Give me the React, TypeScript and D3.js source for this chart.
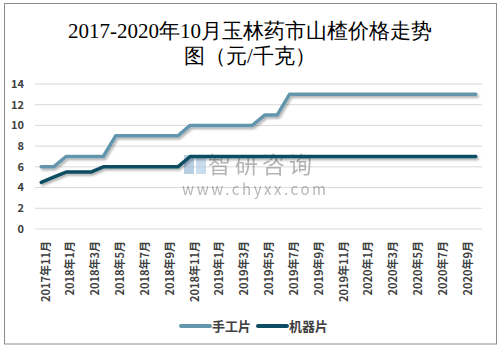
import * as d3 from 'd3';
import React from 'react';

const W = 502;
const H = 351;

// months from 2017-11 to 2020-10
const months = [
  '2017年11月', '2017年12月',
  '2018年1月', '2018年2月', '2018年3月', '2018年4月', '2018年5月', '2018年6月',
  '2018年7月', '2018年8月', '2018年9月', '2018年10月', '2018年11月', '2018年12月',
  '2019年1月', '2019年2月', '2019年3月', '2019年4月', '2019年5月', '2019年6月',
  '2019年7月', '2019年8月', '2019年9月', '2019年10月', '2019年11月', '2019年12月',
  '2020年1月', '2020年2月', '2020年3月', '2020年4月', '2020年5月', '2020年6月',
  '2020年7月', '2020年8月', '2020年9月', '2020年10月',
];

const handmade = [
  6, 6, 7, 7, 7, 7, 9, 9, 9, 9, 9, 9, 10, 10, 10, 10, 10, 10, 11, 11,
  13, 13, 13, 13, 13, 13, 13, 13, 13, 13, 13, 13, 13, 13, 13, 13,
];
const machine = [
  4.5, 5, 5.5, 5.5, 5.5, 6, 6, 6, 6, 6, 6, 6, 7, 7, 7, 7, 7, 7, 7, 7,
  7, 7, 7, 7, 7, 7, 7, 7, 7, 7, 7, 7, 7, 7, 7, 7,
];

const yTicks = [0, 2, 4, 6, 8, 10, 12, 14];
const seriesNames = ['手工片', '机器片'];
const colors = ['#6496ad', '#0d4d63'];

const plot = { left: 35, right: 482, top: 84, bottom: 229 };

export default function App() {
  const x = d3.scaleBand<string>().domain(months).range([plot.left, plot.right]);
  const y = d3.scaleLinear().domain([0, 14]).range([plot.bottom, plot.top]);
  const cx = (m: string) => (x(m) ?? 0) + x.bandwidth() / 2;

  const line = d3
    .line<number>()
    .x((_, i) => cx(months[i]))
    .y((d) => y(d));

  const series = [handmade, machine];
  const sans = '"Noto Sans CJK SC", "Noto Sans", sans-serif';
  const serif = '"Liberation Serif", "DejaVu Serif", serif';

  return (
    <svg width={W} height={H} style={{ position: 'absolute', left: 0, top: 0 }}>
      <defs>
        <filter id="sh" x="-5%" y="-20%" width="110%" height="160%">
          <feDropShadow dx="1.5" dy="2" stdDeviation="1" floodColor="#000" floodOpacity="0.3" />
        </filter>
      </defs>
      <rect x={0} y={0} width={W} height={H} fill="#fff" />
      <rect x={4.5} y={3.5} width={492} height={340.5} fill="none" stroke="#8c8c8c" />

      {/* title */}
      <text x={250} y={38} textAnchor="middle" fontSize={21} fontFamily={serif} fill="#000">
        2017-2020年10月玉林药市山楂价格走势
      </text>
      <text x={250} y={63} textAnchor="middle" fontSize={21} fontFamily={serif} fill="#000">
        图（元/千克）
      </text>

      {/* grid + y labels */}
      {yTicks.map((t) => (
        <g key={t}>
          <line x1={plot.left} x2={plot.right} y1={y(t)} y2={y(t)} stroke="#d9d9d9" />
          <text
            x={24}
            y={y(t)}
            dy="0.35em"
            textAnchor="end"
            fontSize={11}
            fontWeight="bold"
            fontFamily={sans}
            fill="#404040"
          >
            {t}
          </text>
        </g>
      ))}

      {/* x labels, every other month */}
      {months.map((m, i) =>
        i % 2 === 0 ? (
          <text
            key={m}
            transform={`translate(${cx(m) + 4.5},${241}) rotate(-90)`}
            dy="0.35em"
            textAnchor="end"
            fontSize={11}
            fontWeight="bold"
            fontFamily={sans}
            fill="#404040"
          >
            {m}
          </text>
        ) : null
      )}

      {/* watermark */}
      <g opacity={0.55}>
        <rect x={184} y={155} width={10} height={19} fill="#7fa9cf" />
        <rect x={196} y={155} width={10} height={19} fill="#9fc3e3" />
        <text x={208} y={173} fontSize={23} letterSpacing={4} fontFamily={sans} fill="#7a7a7a">
          智研咨询
        </text>
        <text x={182} y={195} fontSize={15} letterSpacing={2.6} fontFamily={sans} fill="#7a7a7a">
          www.chyxx.com
        </text>
      </g>

      {/* lines */}
      {series.map((s, k) => (
        <path
          key={k}
          d={line(s) ?? ''}
          fill="none"
          stroke={colors[k]}
          strokeWidth={3.5}
          strokeLinejoin="round"
          strokeLinecap="round"
          filter="url(#sh)"
        />
      ))}

      {/* legend */}
      {seriesNames.map((n, k) => (
        <g key={n} transform={`translate(${181 + k * 77},326)`}>
          <line x1={0} x2={29} y1={0} y2={0} stroke={colors[k]} strokeWidth={4} strokeLinecap="round" />
          <text x={31} y={0} dy="0.35em" fontSize={13} fontWeight="bold" fontFamily={sans} fill="#404040">
            {n}
          </text>
        </g>
      ))}
    </svg>
  );
}
